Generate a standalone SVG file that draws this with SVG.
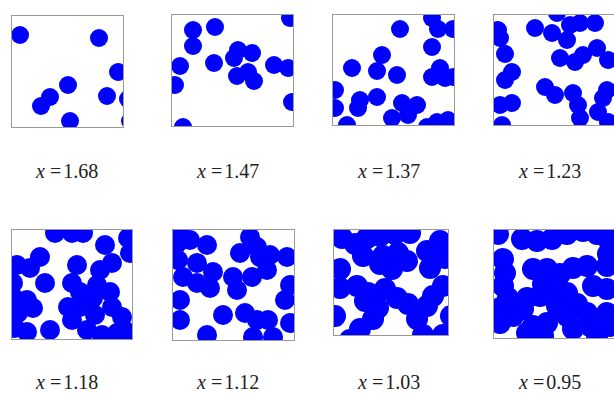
<svg xmlns="http://www.w3.org/2000/svg" width="614" height="394" viewBox="0 0 614 394">
<style>
.p circle{fill:#0000ff}
.d circle{r:10px}
.e circle{r:11px}
.b{fill:none;stroke:#999;stroke-width:1}
.l{font-family:"Liberation Serif","DejaVu Serif",serif;font-size:20px;fill:#222}
.i{font-style:italic}
</style>
<defs>
<clipPath id="c1"><rect x="11" y="15" width="113" height="113"/></clipPath>
<clipPath id="c2"><rect x="171" y="14" width="123" height="113"/></clipPath>
<clipPath id="c3"><rect x="332" y="14" width="123" height="112"/></clipPath>
<clipPath id="c4"><rect x="493" y="14" width="123" height="112"/></clipPath>
<clipPath id="c5"><rect x="11" y="229" width="122" height="111"/></clipPath>
<clipPath id="c6"><rect x="172" y="229" width="123" height="112"/></clipPath>
<clipPath id="c7"><rect x="333" y="229" width="116" height="107"/></clipPath>
<clipPath id="c8"><rect x="493" y="229" width="123" height="110"/></clipPath>
</defs>
<rect width="614" height="394" fill="#fff"/>

<g id="panel1" class="p">
<g clip-path="url(#c1)">
<circle cx="20" cy="35" r="9"/><circle cx="99" cy="38" r="9"/><circle cx="118" cy="72" r="9"/><circle cx="68" cy="85" r="9"/>
<circle cx="50" cy="97" r="9"/><circle cx="41" cy="106" r="9"/><circle cx="107" cy="96" r="9"/><circle cx="128" cy="99" r="9"/>
<circle cx="70" cy="121" r="9"/><circle cx="130" cy="121" r="9"/>
</g>
<rect class="b" x="11.5" y="15.5" width="112" height="112"/>
</g>

<g id="panel2" class="p">
<g clip-path="url(#c2)">
<circle cx="193" cy="30" r="9"/><circle cx="215" cy="27" r="9"/><circle cx="193" cy="46" r="9"/><circle cx="290" cy="18" r="9"/>
<circle cx="180" cy="66" r="9"/><circle cx="175" cy="85" r="9"/><circle cx="214" cy="63" r="9"/><circle cx="238" cy="50" r="9"/>
<circle cx="252" cy="53" r="9"/><circle cx="234" cy="58" r="9"/><circle cx="237" cy="76" r="9"/><circle cx="248" cy="72" r="9"/>
<circle cx="254" cy="81" r="9"/><circle cx="274" cy="65" r="9"/><circle cx="288" cy="68" r="9"/><circle cx="292" cy="102" r="9"/>
<circle cx="183" cy="127" r="9"/>
</g>
<rect class="b" x="171.5" y="14.5" width="122" height="112"/>
</g>

<g id="panel3" class="p">
<g clip-path="url(#c3)">
<circle cx="400" cy="29" r="9"/><circle cx="432" cy="18" r="9"/><circle cx="438" cy="29" r="9"/><circle cx="453" cy="29" r="9"/>
<circle cx="432" cy="47" r="9"/><circle cx="382" cy="55" r="9"/><circle cx="352" cy="68" r="9"/><circle cx="377" cy="71" r="9"/>
<circle cx="397" cy="75" r="9"/><circle cx="440" cy="68" r="9"/><circle cx="432" cy="77" r="9"/><circle cx="445" cy="78" r="9"/>
<circle cx="453" cy="77" r="9"/><circle cx="335" cy="90" r="9"/><circle cx="360" cy="100" r="9"/><circle cx="377" cy="97" r="9"/>
<circle cx="358" cy="108" r="9"/><circle cx="335" cy="108" r="9"/><circle cx="402" cy="103" r="9"/><circle cx="417" cy="105" r="9"/>
<circle cx="392" cy="118" r="9"/><circle cx="408" cy="115" r="9"/><circle cx="347" cy="125" r="9"/><circle cx="437" cy="122" r="9"/>
<circle cx="448" cy="120" r="9"/><circle cx="427" cy="127" r="9"/>
</g>
<rect class="b" x="332.5" y="14.5" width="122" height="111"/>
</g>

<g id="panel4" class="p">
<g clip-path="url(#c4)">
<circle cx="557" cy="13" r="9"/><circle cx="535" cy="28" r="9"/><circle cx="552" cy="33" r="9"/><circle cx="570" cy="25" r="9"/>
<circle cx="580" cy="23" r="9"/><circle cx="595" cy="23" r="9"/><circle cx="567" cy="40" r="9"/><circle cx="498" cy="30" r="9"/>
<circle cx="500" cy="38" r="9"/><circle cx="505" cy="54" r="9"/><circle cx="560" cy="58" r="9"/><circle cx="575" cy="62" r="9"/>
<circle cx="583" cy="55" r="9"/><circle cx="597" cy="48" r="9"/><circle cx="608" cy="60" r="9"/><circle cx="512" cy="72" r="9"/>
<circle cx="505" cy="80" r="9"/><circle cx="545" cy="87" r="9"/><circle cx="555" cy="95" r="9"/><circle cx="573" cy="93" r="9"/>
<circle cx="607" cy="90" r="9"/><circle cx="603" cy="98" r="9"/><circle cx="500" cy="105" r="9"/><circle cx="512" cy="103" r="9"/>
<circle cx="578" cy="105" r="9"/><circle cx="580" cy="118" r="9"/><circle cx="598" cy="112" r="9"/><circle cx="608" cy="122" r="9"/>
<circle cx="502" cy="125" r="9"/>
</g>
<rect class="b" x="493.5" y="14.5" width="122" height="111"/>
</g>

<g id="panel5" class="p d">
<g clip-path="url(#c5)">
<circle cx="55" cy="233" r="9"/><circle cx="72" cy="233" r="9"/><circle cx="83" cy="233" r="9"/><circle cx="128" cy="238" r="9"/>
<circle cx="105" cy="245" r="9"/><circle cx="130" cy="253" r="9"/><circle cx="40" cy="257" r="9"/><circle cx="30" cy="268" r="9"/>
<circle cx="17" cy="265" r="9"/><circle cx="13" cy="283" r="9"/><circle cx="45" cy="283" r="9"/><circle cx="77" cy="265" r="9"/>
<circle cx="72" cy="283" r="9"/><circle cx="112" cy="263" r="9"/><circle cx="100" cy="270" r="9"/><circle cx="97" cy="285" r="9"/>
<circle cx="110" cy="292" r="9"/><circle cx="80" cy="292" r="9"/><circle cx="93" cy="298" r="9"/><circle cx="27" cy="300" r="9"/>
<circle cx="33" cy="308" r="9"/><circle cx="18" cy="313" r="9"/><circle cx="68" cy="307" r="9"/><circle cx="80" cy="307" r="9"/>
<circle cx="95" cy="315" r="9"/><circle cx="112" cy="307" r="9"/><circle cx="122" cy="317" r="9"/><circle cx="72" cy="320" r="9"/>
<circle cx="50" cy="330" r="9"/><circle cx="87" cy="330" r="9"/><circle cx="15" cy="328" r="9"/><circle cx="27" cy="332" r="9"/>
<circle cx="117" cy="333" r="9"/><circle cx="127" cy="332" r="9"/><circle cx="102" cy="335" r="9"/><circle cx="14" cy="298" r="9"/>
</g>
<rect class="b" x="11.5" y="229.5" width="121" height="110"/>
</g>

<g id="panel6" class="p d">
<g clip-path="url(#c6)">
<circle cx="180" cy="235" r="9"/><circle cx="190" cy="240" r="9"/><circle cx="207" cy="245" r="9"/><circle cx="250" cy="237" r="9"/>
<circle cx="257" cy="247" r="9"/><circle cx="240" cy="253" r="9"/><circle cx="260" cy="257" r="9"/><circle cx="270" cy="255" r="9"/>
<circle cx="287" cy="257" r="9"/><circle cx="178" cy="260" r="9"/><circle cx="197" cy="263" r="9"/><circle cx="213" cy="272" r="9"/>
<circle cx="233" cy="277" r="9"/><circle cx="252" cy="277" r="9"/><circle cx="267" cy="270" r="9"/><circle cx="183" cy="277" r="9"/>
<circle cx="197" cy="283" r="9"/><circle cx="210" cy="288" r="9"/><circle cx="237" cy="290" r="9"/><circle cx="290" cy="285" r="9"/>
<circle cx="180" cy="300" r="9"/><circle cx="285" cy="300" r="9"/><circle cx="180" cy="320" r="9"/><circle cx="223" cy="315" r="9"/>
<circle cx="245" cy="313" r="9"/><circle cx="257" cy="320" r="9"/><circle cx="268" cy="320" r="9"/><circle cx="290" cy="323" r="9"/>
<circle cx="207" cy="335" r="9"/><circle cx="253" cy="337" r="9"/><circle cx="273" cy="337" r="9"/><circle cx="176" cy="245" r="9"/>
</g>
<rect class="b" x="172.5" y="229.5" width="122" height="111"/>
</g>

<g id="panel7" class="p e">
<g clip-path="url(#c7)">
<circle cx="342" cy="238" r="9"/><circle cx="355" cy="244" r="9"/><circle cx="367" cy="238" r="9"/><circle cx="380" cy="236" r="9"/>
<circle cx="395" cy="234" r="9"/><circle cx="410" cy="233" r="9"/><circle cx="363" cy="256" r="9"/><circle cx="383" cy="256" r="9"/>
<circle cx="398" cy="253" r="9"/><circle cx="407" cy="261" r="9"/><circle cx="392" cy="269" r="9"/><circle cx="380" cy="264" r="9"/>
<circle cx="427" cy="251" r="9"/><circle cx="440" cy="241" r="9"/><circle cx="445" cy="258" r="9"/><circle cx="430" cy="268" r="9"/>
<circle cx="340" cy="269" r="9"/><circle cx="340" cy="288" r="9"/><circle cx="357" cy="286" r="9"/><circle cx="368" cy="293" r="9"/>
<circle cx="365" cy="301" r="9"/><circle cx="385" cy="289" r="9"/><circle cx="397" cy="298" r="9"/><circle cx="408" cy="304" r="9"/>
<circle cx="378" cy="308" r="9"/><circle cx="373" cy="319" r="9"/><circle cx="360" cy="329" r="9"/><circle cx="417" cy="319" r="9"/>
<circle cx="427" cy="306" r="9"/><circle cx="433" cy="296" r="9"/><circle cx="443" cy="286" r="9"/><circle cx="335" cy="316" r="9"/>
<circle cx="423" cy="335" r="9"/><circle cx="443" cy="335" r="9"/><circle cx="350" cy="340" r="9"/><circle cx="451" cy="316" r="9"/>
</g>
<rect class="b" x="333.5" y="229.5" width="115" height="106"/>
</g>

<g id="panel8" class="p e">
<g clip-path="url(#c8)">
<circle cx="498" cy="234" r="9"/><circle cx="522" cy="239" r="9"/><circle cx="537" cy="241" r="9"/><circle cx="552" cy="239" r="9"/>
<circle cx="567" cy="234" r="9"/><circle cx="583" cy="231" r="9"/><circle cx="597" cy="234" r="9"/><circle cx="608" cy="239" r="9"/>
<circle cx="608" cy="254" r="9"/><circle cx="607" cy="266" r="9"/><circle cx="503" cy="259" r="9"/><circle cx="505" cy="273" r="9"/>
<circle cx="503" cy="286" r="9"/><circle cx="508" cy="298" r="9"/><circle cx="500" cy="308" r="9"/><circle cx="500" cy="323" r="9"/>
<circle cx="513" cy="316" r="9"/><circle cx="533" cy="269" r="9"/><circle cx="547" cy="269" r="9"/><circle cx="560" cy="274" r="9"/>
<circle cx="573" cy="268" r="9"/><circle cx="587" cy="266" r="9"/><circle cx="543" cy="284" r="9"/><circle cx="553" cy="289" r="9"/>
<circle cx="567" cy="293" r="9"/><circle cx="593" cy="286" r="9"/><circle cx="607" cy="289" r="9"/><circle cx="527" cy="298" r="9"/>
<circle cx="523" cy="309" r="9"/><circle cx="540" cy="296" r="9"/><circle cx="557" cy="306" r="9"/><circle cx="577" cy="304" r="9"/>
<circle cx="587" cy="313" r="9"/><circle cx="607" cy="313" r="9"/><circle cx="610" cy="326" r="9"/><circle cx="533" cy="326" r="9"/>
<circle cx="547" cy="323" r="9"/><circle cx="527" cy="333" r="9"/><circle cx="543" cy="336" r="9"/><circle cx="567" cy="316" r="9"/>
<circle cx="573" cy="329" r="9"/><circle cx="590" cy="326" r="9"/><circle cx="597" cy="336" r="9"/>
</g>
<rect class="b" x="493.5" y="229.5" width="122" height="109"/>
</g>

<g id="labels" class="l">
<text x="36" y="177.5"><tspan class="i">x</tspan><tspan dx="5">=</tspan><tspan dx="2">1.68</tspan></text>
<text x="197" y="177.5"><tspan class="i">x</tspan><tspan dx="5">=</tspan><tspan dx="2">1.47</tspan></text>
<text x="358" y="177.5"><tspan class="i">x</tspan><tspan dx="5">=</tspan><tspan dx="2">1.37</tspan></text>
<text x="519" y="177.5"><tspan class="i">x</tspan><tspan dx="5">=</tspan><tspan dx="2">1.23</tspan></text>
<text x="36" y="389"><tspan class="i">x</tspan><tspan dx="5">=</tspan><tspan dx="2">1.18</tspan></text>
<text x="197" y="389"><tspan class="i">x</tspan><tspan dx="5">=</tspan><tspan dx="2">1.12</tspan></text>
<text x="358" y="389"><tspan class="i">x</tspan><tspan dx="5">=</tspan><tspan dx="2">1.03</tspan></text>
<text x="519" y="389"><tspan class="i">x</tspan><tspan dx="5">=</tspan><tspan dx="2">0.95</tspan></text>
</g>
</svg>
